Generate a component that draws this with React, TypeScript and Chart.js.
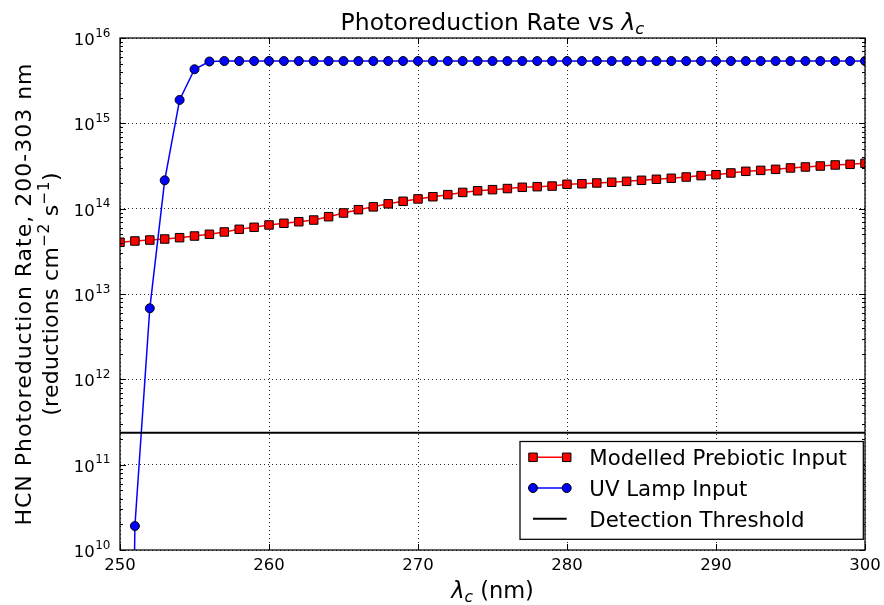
import { useEffect, useRef } from 'react';
import { Chart, registerables } from 'chart.js';

Chart.register(...registerables);

const WIDTH = 884;
const HEIGHT = 605;
const FONT = '"DejaVu Sans", sans-serif';

// Cut-off wavelength λc (nm)
const wavelengths = [
  250, 251, 252, 253, 254, 255, 256, 257, 258, 259,
  260, 261, 262, 263, 264, 265, 266, 267, 268, 269,
  270, 271, 272, 273, 274, 275, 276, 277, 278, 279,
  280, 281, 282, 283, 284, 285, 286, 287, 288, 289,
  290, 291, 292, 293, 294, 295, 296, 297, 298, 299,
  300,
];

// HCN photoreduction rate for the modelled prebiotic surface spectrum
const prebioticRate = [
  4.04e13, 4.18e13, 4.29e13, 4.41e13, 4.57e13, 4.78e13, 5.01e13, 5.33e13, 5.73e13, 6.05e13,
  6.44e13, 6.74e13, 7.03e13, 7.36e13, 8.05e13, 8.9e13, 9.73e13, 1.05e14, 1.14e14, 1.22e14,
  1.3e14, 1.38e14, 1.46e14, 1.55e14, 1.62e14, 1.67e14, 1.72e14, 1.78e14, 1.81e14, 1.84e14,
  1.93e14, 1.96e14, 2.0e14, 2.04e14, 2.09e14, 2.15e14, 2.21e14, 2.27e14, 2.35e14, 2.44e14,
  2.5e14, 2.62e14, 2.74e14, 2.81e14, 2.89e14, 3.0e14, 3.08e14, 3.16e14, 3.25e14, 3.31e14,
  3.4e14,
];

// HCN photoreduction rate for the UV lamp spectrum
const uvLampRate = [
  1e-3, 1.91e10, 6.8e12, 2.15e14, 1.88e15, 4.3e15, 5.3e15, 5.37e15, 5.37e15, 5.37e15,
  5.37e15, 5.37e15, 5.37e15, 5.37e15, 5.37e15, 5.37e15, 5.37e15, 5.37e15, 5.37e15, 5.37e15,
  5.37e15, 5.37e15, 5.37e15, 5.37e15, 5.37e15, 5.37e15, 5.37e15, 5.37e15, 5.37e15, 5.37e15,
  5.37e15, 5.37e15, 5.37e15, 5.37e15, 5.37e15, 5.37e15, 5.37e15, 5.37e15, 5.37e15, 5.37e15,
  5.37e15, 5.37e15, 5.37e15, 5.37e15, 5.37e15, 5.37e15, 5.37e15, 5.37e15, 5.37e15, 5.37e15,
  5.37e15,
];

const detectionThreshold = 2.37e11;

const xRange = [250, 300];
const xTicks = [250, 260, 270, 280, 290, 300];
const yExponents = [10, 11, 12, 13, 14, 15, 16];
const minorMultipliers = [2, 3, 4, 5, 6, 7, 8, 9];

const seriesLabels = ['Modelled Prebiotic Input', 'UV Lamp Input', 'Detection Threshold'];
const seriesColors = ['#ff0000', '#0000ff', '#000000'];

type Run = { text: string; font: string; dy?: number };

function runsWidth(ctx: CanvasRenderingContext2D, runs: Run[]) {
  let w = 0;
  for (const r of runs) {
    ctx.font = r.font;
    w += ctx.measureText(r.text).width;
  }
  return w;
}

// Draws a row of text pieces centred on x, with optional baseline shifts
function drawRuns(ctx: CanvasRenderingContext2D, runs: Run[], x: number, y: number, spacing = 0) {
  (ctx as any).letterSpacing = `${spacing}px`;
  let cx = x - runsWidth(ctx, runs) / 2;
  ctx.textAlign = 'left';
  ctx.textBaseline = 'alphabetic';
  for (const r of runs) {
    ctx.font = r.font;
    ctx.fillText(r.text, cx, y + (r.dy || 0));
    cx += ctx.measureText(r.text).width;
  }
  (ctx as any).letterSpacing = '0px';
}

function drawMarker(ctx: CanvasRenderingContext2D, style: string, x: number, y: number, color: string) {
  ctx.fillStyle = color;
  ctx.strokeStyle = '#000';
  ctx.lineWidth = 1;
  ctx.beginPath();
  if (style === 'rect') {
    const h = 4.25;
    ctx.rect(x - h, y - h, 2 * h, 2 * h);
  } else {
    ctx.arc(x, y, 4.5, 0, Math.PI * 2);
  }
  ctx.fill();
  ctx.stroke();
}

const decorations = {
  id: 'decorations',
  afterDraw(chart: any) {
    const { ctx, chartArea: a, scales } = chart;
    const xs = scales.x;
    const ys = scales.y;
    const al = (v: number) => Math.round(v) + 0.5;
    ctx.save();

    // Axes frame
    ctx.strokeStyle = '#000';
    ctx.lineWidth = 1.25;
    ctx.strokeRect(a.left, a.top, a.right - a.left, a.bottom - a.top);

    // Inward ticks on all four sides
    ctx.lineWidth = 1;
    ctx.beginPath();
    for (const v of xTicks) {
      const px = al(xs.getPixelForValue(v));
      ctx.moveTo(px, a.bottom);
      ctx.lineTo(px, a.bottom - 6);
      ctx.moveTo(px, a.top);
      ctx.lineTo(px, a.top + 6);
    }
    for (const e of yExponents) {
      const py = al(ys.getPixelForValue(Math.pow(10, e)));
      ctx.moveTo(a.left, py);
      ctx.lineTo(a.left + 6, py);
      ctx.moveTo(a.right, py);
      ctx.lineTo(a.right - 6, py);
      if (e === yExponents[yExponents.length - 1]) continue;
      for (const m of minorMultipliers) {
        const pm = al(ys.getPixelForValue(m * Math.pow(10, e)));
        ctx.moveTo(a.left, pm);
        ctx.lineTo(a.left + 3, pm);
        ctx.moveTo(a.right, pm);
        ctx.lineTo(a.right - 3, pm);
      }
    }
    ctx.stroke();

    ctx.fillStyle = '#000';

    // X tick labels
    ctx.font = `16.5px ${FONT}`;
    ctx.textAlign = 'center';
    ctx.textBaseline = 'alphabetic';
    for (const v of xTicks) {
      ctx.fillText(String(v), xs.getPixelForValue(v), a.bottom + 20);
    }

    // Y tick labels as powers of ten
    for (const e of yExponents) {
      const py = ys.getPixelForValue(Math.pow(10, e));
      ctx.font = `16.5px ${FONT}`;
      const wBase = ctx.measureText('10').width;
      ctx.font = `12px ${FONT}`;
      const wExp = ctx.measureText(String(e)).width;
      const x0 = a.left - 10 - wBase - wExp;
      ctx.textAlign = 'left';
      ctx.font = `16.5px ${FONT}`;
      ctx.fillText('10', x0, py + 7);
      ctx.font = `12px ${FONT}`;
      ctx.fillText(String(e), x0 + wBase + 0.5, py - 1.3);
    }

    const cx = (a.left + a.right) / 2;
    const cy = (a.top + a.bottom) / 2;

    // Title
    drawRuns(ctx, [
      { text: 'Photoreduction Rate vs ', font: `23.5px ${FONT}` },
      { text: 'λ', font: `italic 23.5px ${FONT}` },
      { text: 'c', font: `italic 16.5px ${FONT}`, dy: 4 },
    ], cx, 29.5);

    // X axis title
    drawRuns(ctx, [
      { text: 'λ', font: `italic 22.5px ${FONT}` },
      { text: 'c', font: `italic 15.5px ${FONT}`, dy: 4.5 },
      { text: ' (nm)', font: `22.5px ${FONT}` },
    ], cx, 597.5);

    // Y axis title (two lines, rotated)
    ctx.save();
    ctx.translate(30.5, cy);
    ctx.rotate(-Math.PI / 2);
    drawRuns(ctx, [{ text: 'HCN Photoreduction Rate, 200-303 nm', font: `22px ${FONT}` }], 0, 0, 1);
    ctx.restore();
    ctx.save();
    ctx.translate(58.3, cy);
    ctx.rotate(-Math.PI / 2);
    drawRuns(ctx, [
      { text: '(reductions cm', font: `22px ${FONT}` },
      { text: '−2', font: `15.4px ${FONT}`, dy: -9 },
      { text: ' s', font: `22px ${FONT}` },
      { text: '−1', font: `15.4px ${FONT}`, dy: -9 },
      { text: ')', font: `22px ${FONT}` },
    ], 0, 0, 0.3);
    ctx.restore();

    // Legend
    const box = { left: a.right - 345, top: a.bottom - 108.5, right: a.right - 1.7, bottom: a.bottom - 10.7 };
    ctx.fillStyle = '#fff';
    ctx.fillRect(box.left, box.top, box.right - box.left, box.bottom - box.top);
    ctx.strokeStyle = '#000';
    ctx.lineWidth = 1.25;
    ctx.strokeRect(box.left, box.top, box.right - box.left, box.bottom - box.top);
    const styles = ['rect', 'circle', 'none'];
    const ds = chart.data.datasets;
    for (let i = 0; i < ds.length; i++) {
      const base = box.top + 23.6 + i * 30.7;
      const my = base - 7.8;
      const x1 = box.left + 13;
      const x2 = box.left + 46.7;
      ctx.strokeStyle = seriesColors[i];
      ctx.lineWidth = i === 2 ? 2 : 1.5;
      ctx.beginPath();
      ctx.moveTo(x1, my);
      ctx.lineTo(x2, my);
      ctx.stroke();
      if (styles[i] !== 'none') {
        drawMarker(ctx, styles[i], x1, my, seriesColors[i]);
        drawMarker(ctx, styles[i], x2, my, seriesColors[i]);
      }
      ctx.fillStyle = '#000';
      ctx.font = `21.3px ${FONT}`;
      ctx.textAlign = 'left';
      ctx.textBaseline = 'alphabetic';
      ctx.fillText(ds[i].label, box.left + 69.3, base);
    }

    ctx.restore();
  },
};

export default function App() {
  const canvasRef = useRef<HTMLCanvasElement | null>(null);

  useEffect(() => {
    document.body.style.margin = '0';
    const canvas = canvasRef.current;
    if (!canvas) return;

    const gridOpts = { color: 'rgba(0,0,0,0.85)', lineWidth: 1, drawTicks: false };
    const borderOpts = { display: false, dash: [1, 3] };

    const chart = new Chart(canvas, {
      type: 'line',
      data: {
        datasets: [
          {
            label: seriesLabels[0],
            data: wavelengths.map((x, i) => ({ x, y: prebioticRate[i] })),
            borderColor: seriesColors[0],
            backgroundColor: seriesColors[0],
            borderWidth: 1.5,
            pointStyle: 'rect',
            pointRadius: 6,
            pointBackgroundColor: seriesColors[0],
            pointBorderColor: '#000',
            pointBorderWidth: 1,
            clip: 0,
            order: 2,
          },
          {
            label: seriesLabels[1],
            data: wavelengths.map((x, i) => ({ x, y: uvLampRate[i] })),
            borderColor: seriesColors[1],
            backgroundColor: seriesColors[1],
            borderWidth: 1.5,
            pointStyle: 'circle',
            pointRadius: 4.5,
            pointBackgroundColor: seriesColors[1],
            pointBorderColor: '#000',
            pointBorderWidth: 1,
            clip: 0,
            order: 1,
          },
          {
            label: seriesLabels[2],
            data: xRange.map((x) => ({ x, y: detectionThreshold })),
            borderColor: seriesColors[2],
            borderWidth: 2,
            pointRadius: 0,
            clip: 0,
            order: 0,
          },
        ],
      },
      options: {
        responsive: false,
        animation: false,
        devicePixelRatio: 1,
        layout: { padding: { left: 0, right: 19, top: 38, bottom: 0 } },
        plugins: {
          legend: { display: false },
          title: { display: false },
          tooltip: { enabled: false },
        },
        elements: { line: { tension: 0 } },
        scales: {
          x: {
            type: 'linear',
            min: xRange[0],
            max: xRange[1],
            ticks: { stepSize: 10, display: false },
            grid: gridOpts,
            border: borderOpts,
            afterFit: (s: any) => {
              s.height = 55;
            },
          },
          y: {
            type: 'logarithmic',
            min: Math.pow(10, yExponents[0]),
            max: Math.pow(10, yExponents[yExponents.length - 1]),
            ticks: { display: false },
            grid: gridOpts,
            border: borderOpts,
            afterBuildTicks: (s: any) => {
              s.ticks = yExponents.map((e) => ({ value: Math.pow(10, e) }));
            },
            afterFit: (s: any) => {
              s.width = 120;
            },
          },
        },
      },
      plugins: [decorations],
    } as any);

    return () => chart.destroy();
  }, []);

  return (
    <div style={{ width: WIDTH, height: HEIGHT }}>
      <canvas ref={canvasRef} width={WIDTH} height={HEIGHT} style={{ display: 'block' }} />
    </div>
  );
}
